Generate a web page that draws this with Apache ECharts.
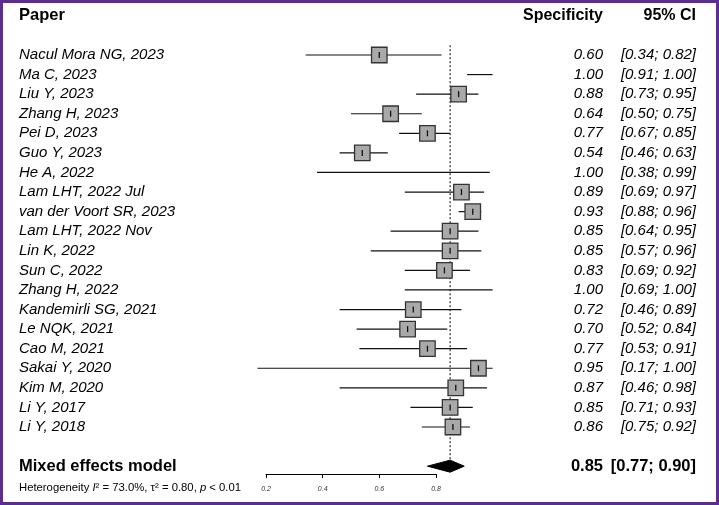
<!DOCTYPE html>
<html>
<head>
<meta charset="utf-8">
<script src="https://cdn.jsdelivr.net/npm/echarts@6/dist/echarts.min.js"></script>
<style>
  body { margin: 0; background: #fff; }
  #wrap { position: relative; width: 719px; height: 505px; }
  #chart { width: 719px; height: 505px; }
  #frame { position: absolute; left: 0; top: 0; width: 719px; height: 505px; box-sizing: border-box; border: 3px solid #5b2d8e; pointer-events: none; }
</style>
</head>
<body>
<div id="wrap"><div id="chart"></div><div id="frame"></div></div>
<script>
const studies = [
  'Nacul Mora NG, 2023', 'Ma C, 2023', 'Liu Y, 2023', 'Zhang H, 2023', 'Pei D, 2023',
  'Guo Y, 2023', 'He A, 2022', 'Lam LHT, 2022 Jul', 'van der Voort SR, 2023', 'Lam LHT, 2022 Nov',
  'Lin K, 2022', 'Sun C, 2022', 'Zhang H, 2022', 'Kandemirli SG, 2021', 'Le NQK, 2021',
  'Cao M, 2021', 'Sakai Y, 2020', 'Kim M, 2020', 'Li Y, 2017', 'Li Y, 2018'
];
const specificity = [0.60, 1.00, 0.88, 0.64, 0.77, 0.54, 1.00, 0.89, 0.93, 0.85, 0.85, 0.83, 1.00, 0.72, 0.70, 0.77, 0.95, 0.87, 0.85, 0.86];
const ciLower = [0.34, 0.91, 0.73, 0.50, 0.67, 0.46, 0.38, 0.69, 0.88, 0.64, 0.57, 0.69, 0.69, 0.46, 0.52, 0.53, 0.17, 0.46, 0.71, 0.75];
const ciUpper = [0.82, 1.00, 0.95, 0.75, 0.85, 0.63, 0.99, 0.97, 0.96, 0.95, 0.96, 0.92, 1.00, 0.89, 0.84, 0.91, 1.00, 0.98, 0.93, 0.92];
const pooled = [0.85, 0.77, 0.90]; // estimate, lower, upper
const xTicks = [0.2, 0.4, 0.6, 0.8];
const hetI2 = '73.0%';
const hetTau2 = '0.80';
const hetP = '< 0.01';

const FONT = '"Liberation Sans", Arial, sans-serif';
const f2 = v => v.toFixed(2);

// rows: header, blank, studies, blank, summary
const leftRows = ['Paper', ''].concat(studies, ['', 'Mixed effects model']);
const rightRows = ['{hs|Specificity}{hc|95% CI}', '']
  .concat(studies.map((_, i) => `{s|${f2(specificity[i])}}{c|[${f2(ciLower[i])}; ${f2(ciUpper[i])}]}`))
  .concat(['', `{bs|${f2(pooled[0])}}{bc|[${f2(pooled[1])}; ${f2(pooled[2])}]}`]);
const nRows = leftRows.length;
const summaryRow = nRows - 0.5;

const studyData = studies.map((_, i) => [specificity[i], ciLower[i], ciUpper[i], i + 2.5]);

function renderStudy(params, api) {
  const est = api.value(0), lo = api.value(1), hi = api.value(2), row = api.value(3);
  const a = api.coord([lo, row]);
  const b = api.coord([hi, row]);
  const c = api.coord([est, row]);
  const kids = [{
    type: 'line',
    shape: { x1: a[0], y1: a[1], x2: b[0], y2: b[1] },
    style: { stroke: '#111', lineWidth: 1.2 }
  }];
  if (est < 1) {
    const s = 15.5;
    kids.push({
      type: 'rect',
      shape: { x: c[0] - s / 2, y: c[1] - s / 2, width: s, height: s },
      style: { fill: '#a9a9a9', stroke: '#333', lineWidth: 1.3 }
    });
    kids.push({
      type: 'line',
      shape: { x1: c[0], y1: c[1] - 3, x2: c[0], y2: c[1] + 3 },
      style: { stroke: '#111', lineWidth: 1.3 }
    });
  }
  return { type: 'group', children: kids };
}

function renderDiamond(params, api) {
  const est = api.value(0), lo = api.value(1), hi = api.value(2), row = api.value(3);
  const pl = api.coord([lo, row]), pe = api.coord([est, row]), ph = api.coord([hi, row]);
  const h = 6;
  return {
    type: 'polygon',
    shape: { points: [[pl[0], pl[1]], [pe[0], pe[1] - h], [ph[0], ph[1]], [pe[0], pe[1] + h]] },
    style: { fill: '#000', stroke: '#000', lineWidth: 1 }
  };
}

const chart = echarts.init(document.getElementById('chart'), null, { renderer: 'canvas' });

const option = {
  animation: false,
  textStyle: { fontFamily: FONT },
  grid: [
    { left: 209.3, right: 226.4, top: 6.05, bottom: 29.05 },
    { left: 266, right: 283, top: 460, bottom: 31 }
  ],
  xAxis: [
    { gridIndex: 0, type: 'value', min: 0, max: 1, show: false },
    {
      gridIndex: 1, type: 'value', min: xTicks[0], max: xTicks[xTicks.length - 1], interval: 0.2,
      axisLine: { show: true, lineStyle: { color: '#000', width: 1 } },
      axisTick: { show: true, length: 4, lineStyle: { color: '#000' } },
      splitLine: { show: false },
      axisLabel: {
        margin: 12, fontSize: 7, fontStyle: 'italic', color: '#333', fontFamily: FONT,
        formatter: v => v.toFixed(1)
      }
    }
  ],
  yAxis: [
    {
      gridIndex: 0, type: 'category', inverse: true, data: leftRows, position: 'left',
      axisLine: { show: false }, axisTick: { show: false }, splitLine: { show: false },
      axisLabel: {
        interval: 0, align: 'left', margin: 190.3, color: '#000',
        formatter: (v, idx) => (idx === 0 || idx === nRows - 1) ? `{b|${v}}` : `{s|${v}}`,
        rich: {
          b: { fontSize: 16.5, fontWeight: 'bold', fontFamily: FONT, color: '#000' },
          s: { fontSize: 15, fontStyle: 'italic', fontFamily: FONT, color: '#000' }
        }
      }
    },
    {
      gridIndex: 0, type: 'category', inverse: true, data: rightRows, position: 'right',
      axisLine: { show: false }, axisTick: { show: false }, splitLine: { show: false },
      axisLabel: {
        interval: 0, align: 'left', margin: 10, color: '#000',
        rich: {
          hs: { width: 100.4, align: 'right', fontSize: 16, fontWeight: 'bold', fontFamily: FONT, color: '#000' },
          hc: { width: 93, align: 'right', fontSize: 16, fontWeight: 'bold', fontFamily: FONT, color: '#000' },
          s: { width: 100.4, align: 'right', fontSize: 15, fontStyle: 'italic', fontFamily: FONT, color: '#000' },
          c: { width: 93, align: 'right', fontSize: 15, fontStyle: 'italic', fontFamily: FONT, color: '#000' },
          bs: { width: 100.4, align: 'right', fontSize: 16.5, fontWeight: 'bold', fontFamily: FONT, color: '#000' },
          bc: { width: 93, align: 'right', fontSize: 16.5, fontWeight: 'bold', fontFamily: FONT, color: '#000' }
        }
      }
    },
    { gridIndex: 0, type: 'value', inverse: true, min: 0, max: nRows, show: false },
    { gridIndex: 1, type: 'value', show: false }
  ],
  series: [
    {
      type: 'line', xAxisIndex: 0, yAxisIndex: 2, symbol: 'none', silent: true, z: 1,
      data: [[pooled[0], 2.0], [pooled[0], summaryRow - 0.31]],
      lineStyle: { color: '#000', width: 1, type: [2, 2] }
    },
    {
      type: 'custom', xAxisIndex: 0, yAxisIndex: 2, renderItem: renderStudy, z: 3,
      data: studyData, clip: false
    },
    {
      type: 'custom', xAxisIndex: 0, yAxisIndex: 2, renderItem: renderDiamond, z: 3,
      data: [[pooled[0], pooled[1], pooled[2], summaryRow]], clip: false
    }
  ],
  graphic: [{
    type: 'text', left: 19, top: 482,
    style: {
      text: `{n|Heterogeneity }{i|I}{n|² = ${hetI2}, τ² = ${hetTau2}, }{i|p}{n| ${hetP}}`,
      rich: {
        n: { fontSize: 11.3, fontFamily: FONT, fill: '#000' },
        i: { fontSize: 11.3, fontFamily: FONT, fontStyle: 'italic', fill: '#000' }
      }
    }
  }]
};

chart.setOption(option);
</script>
</body>
</html>
